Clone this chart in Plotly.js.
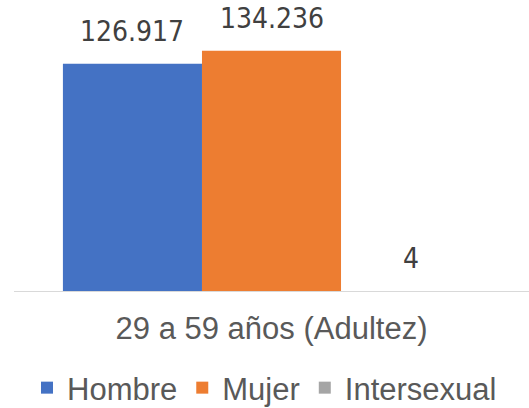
<!DOCTYPE html>
<html>
<head>
<meta charset="utf-8">
<script src="https://cdn.plot.ly/plotly-3.0.1.min.js"></script>
<style>html,body{margin:0;padding:0;background:#fff;}#chart{width:529px;height:408px;}</style>
</head>
<body>
<div id="chart"></div>
<script>
var categories = ["29 a 59 años (Adultez)"];
var seriesNames = ["Hombre", "Mujer", "Intersexual"];
var hombre = [126917];
var mujer = [134236];
var intersexual = [4];
var seriesValues = [hombre, mujer, intersexual];
var colors = ["#4472C4", "#ED7D31", "#A5A5A5"];

var W = 529, H = 408;
var margin = {l: 14, r: 0, t: 10, b: 117};
var bargap = 0.19;

var traces = seriesNames.map(function (name, i) {
  return {
    type: "bar",
    name: name,
    x: categories,
    y: seriesValues[i],
    marker: {color: colors[i]},
    hoverinfo: "none"
  };
});

var plotW = W - margin.l - margin.r;
var barPx = plotW * (1 - bargap) / seriesNames.length;
var annotations = [];
seriesNames.forEach(function (name, i) {
  seriesValues[i].forEach(function (v, j) {
    annotations.push({
      x: categories[j], y: v, xref: "x", yref: "y",
      xshift: (i - (seriesNames.length - 1) / 2) * barPx,
      yshift: 14, yanchor: "bottom", showarrow: false,
      text: v.toLocaleString("de-DE"),
      font: {family: "DejaVu Sans Condensed, Liberation Sans Narrow, sans-serif", size: 28, color: "#404040"}
    });
  });
});

var layout = {
  width: W, height: H,
  margin: margin,
  paper_bgcolor: "#fff", plot_bgcolor: "#fff",
  barmode: "group",
  bargap: bargap,
  bargroupgap: 0,
  showlegend: true,
  legend: {
    orientation: "h", x: 0.5, xanchor: "center", xref: "container",
    y: 20 / 408, yanchor: "middle", yref: "container",
    font: {family: "Liberation Sans, Arial, sans-serif", size: 31, color: "#595959"},
    itemwidth: 30, tracegroupgap: 0
  },
  xaxis: {
    showline: true, linecolor: "#D9D9D9", linewidth: 1,
    ticks: "", showgrid: false, automargin: false,
    tickfont: {family: "Liberation Sans, Arial, sans-serif", size: 31, color: "#595959"},
    ticklabelstandoff: 10
  },
  yaxis: {
    range: [0, 157000], visible: false, showgrid: false, zeroline: false, automargin: false
  },
  annotations: annotations
};

Plotly.newPlot("chart", traces, layout, {displayModeBar: false, staticPlot: true});
</script>
</body>
</html>
